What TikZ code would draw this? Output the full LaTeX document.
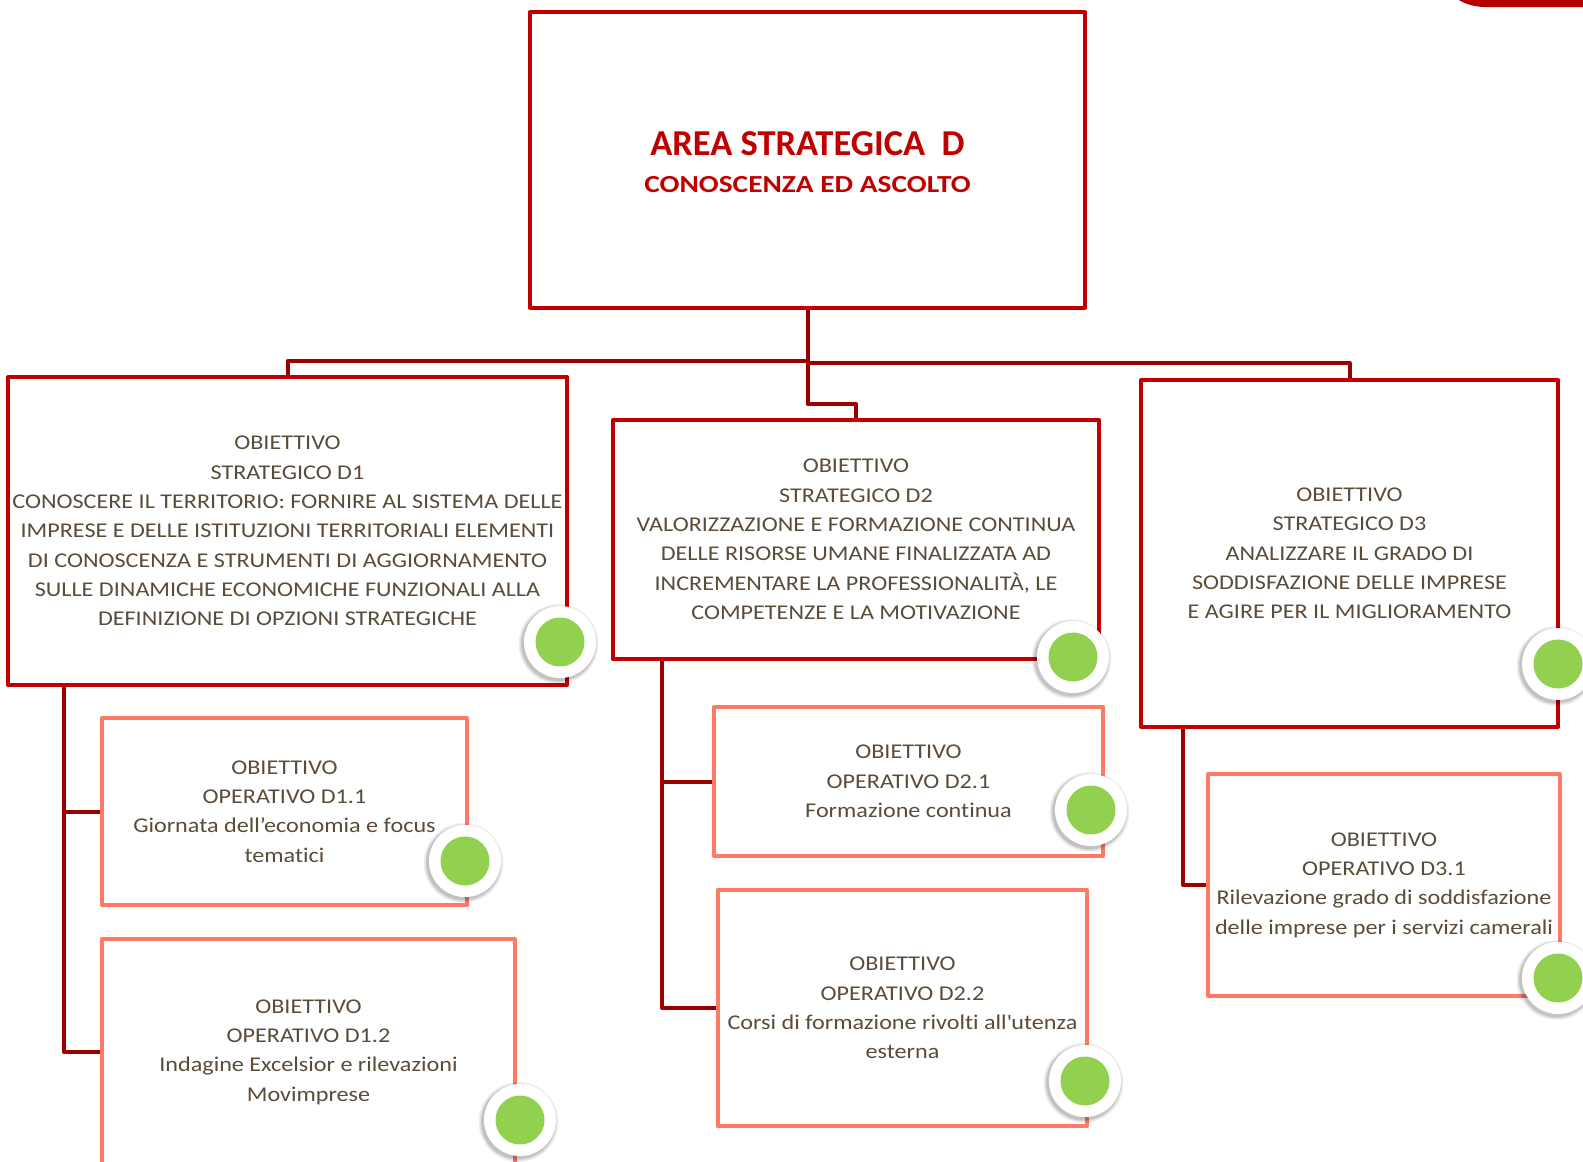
\documentclass[tikz,border=0pt]{standalone}
\usepackage{fontspec}
\setmainfont{Carlito}[FakeStretch=1.15, Ligatures=NoCommon]
\newfontfamily\headfont{Carlito}[Ligatures=NoCommon]
\newfontfamily\subheadfont{Carlito}[FakeStretch=1.2, Ligatures=NoCommon]
\usetikzlibrary{calc,backgrounds}

\definecolor{boxred}{HTML}{C00000}
\definecolor{linkred}{HTML}{9A0000}
\definecolor{salmon}{HTML}{FF7A65}
\definecolor{txt}{HTML}{5B4B39}
\definecolor{dotgreen}{HTML}{92D050}
\definecolor{cornerred}{HTML}{B40000}

\newcommand\bodyfont{\fontsize{21}{29.3}\selectfont}

\begin{document}
\begin{tikzpicture}[x=1pt,y=-1pt,
  basebox/.style={rectangle, line width=4pt, fill=white, align=center,
    inner sep=0pt, outer sep=0pt, text=txt, font=\bodyfont, line join=round},
  strat/.style={basebox, draw=boxred},
  oper/.style={basebox, draw=salmon},
  conn/.style={draw=linkred, line width=4pt, line join=round},
  dot/.style={circle, fill=white, minimum size=72pt, inner sep=0pt,
    path picture={\fill[dotgreen] (path picture bounding box.center) circle (24.5pt);}}
]
\useasboundingbox (0,0) rectangle (1583,1162);

% tab in the upper right corner
\fill[cornerred, rounded corners=53pt] (1432,-120) rectangle (1700,7);

% boxes with their texts
\node[strat, minimum width=555pt, minimum height=296pt] (top) at (807.5,160) {};
\node[align=center, inner sep=0pt, text=boxred,
      font=\bfseries\fontsize{24.5}{37}\selectfont] (title) at (807.5,162.5)
  {{\headfont\bfseries\fontsize{36.5}{37}\selectfont AREA STRATEGICA\ \ D}\\
   {\subheadfont\bfseries CONOSCENZA ED ASCOLTO}};
\node[strat, minimum width=559pt, minimum height=308pt] (D1) at (287.5,531)
  {OBIETTIVO\\STRATEGICO D1\\CONOSCERE IL TERRITORIO: FORNIRE AL SISTEMA DELLE\\
   IMPRESE E DELLE ISTITUZIONI TERRITORIALI ELEMENTI\\
   DI CONOSCENZA E STRUMENTI DI AGGIORNAMENTO\\
   SULLE DINAMICHE ECONOMICHE FUNZIONALI ALLA\\
   DEFINIZIONE DI OPZIONI STRATEGICHE};
\node[strat, minimum width=486pt, minimum height=239pt] (D2) at (856,539.5)
  {OBIETTIVO\\STRATEGICO D2\\VALORIZZAZIONE E FORMAZIONE CONTINUA\\
   DELLE RISORSE UMANE FINALIZZATA AD\\
   INCREMENTARE LA PROFESSIONALITÀ, LE\\
   COMPETENZE E LA MOTIVAZIONE};
\node[strat, minimum width=417pt, minimum height=347pt] (D3) at (1349.5,553.5)
  {OBIETTIVO\\STRATEGICO D3\\ANALIZZARE IL GRADO DI\\
   SODDISFAZIONE DELLE IMPRESE\\E AGIRE PER IL MIGLIORAMENTO};
\node[oper, minimum width=365pt, minimum height=187pt] (D11) at (284.5,811.5)
  {OBIETTIVO\\OPERATIVO D1.1\\Giornata dell’economia e focus\\tematici};
\node[oper, minimum width=413pt, minimum height=226pt] (D12) at (308.5,1052)
  {OBIETTIVO\\OPERATIVO D1.2\\Indagine Excelsior e rilevazioni\\Movimprese};
\node[oper, minimum width=389pt, minimum height=149pt] (D21) at (908.5,781.5)
  {OBIETTIVO\\OPERATIVO D2.1\\Formazione continua};
\node[oper, minimum width=369pt, minimum height=236pt] (D22) at (902.5,1008)
  {OBIETTIVO\\OPERATIVO D2.2\\Corsi di formazione rivolti all\textquotesingle utenza\\esterna};
\node[oper, minimum width=352pt, minimum height=222pt] (D31) at (1384,885)
  {OBIETTIVO\\OPERATIVO D3.1\\Rilevazione grado di soddisfazione\\delle imprese per i servizi camerali};

% connectors behind the boxes
\begin{scope}[on background layer]
\draw[conn] (top.south) -- ++(0,53) -| (D1.north);
\draw[conn] (top.south) -- ++(0,55) -| (D3.north);
\draw[conn] (top.south) -- ++(0,96) -| (D2.north);
\draw[conn] ($(D1.south west)+(56,0)$) |- (D11.west);
\draw[conn] ($(D1.south west)+(56,0)$) |- (D12.west);
\draw[conn] ($(D2.south west)+(49,0)$) |- (D21.west);
\draw[conn] ($(D2.south west)+(49,0)$) |- (D22.west);
\draw[conn] ($(D3.south west)+(42,0)$) |- (D31.west);
\end{scope}

% status dots with a soft shadow
\foreach \px/\py in {560/642,1073/657,1558/664,465/861,520/1120,1091/810,1085/1081,1558/978}{
  \foreach \r in {40,39,38,37.5,37}{
    \fill[black, opacity=0.05] (\px-1.5,\py+2) circle (\r);
  }
}
\node[dot] (g1)  at (560,642)  {};
\node[dot] (g2)  at (1073,657) {};
\node[dot] (g3)  at (1558,664) {};
\node[dot] (g11) at (465,861)  {};
\node[dot] (g12) at (520,1120) {};
\node[dot] (g21) at (1091,810) {};
\node[dot] (g22) at (1085,1081) {};
\node[dot] (g31) at (1558,978) {};
\end{tikzpicture}
\end{document}
